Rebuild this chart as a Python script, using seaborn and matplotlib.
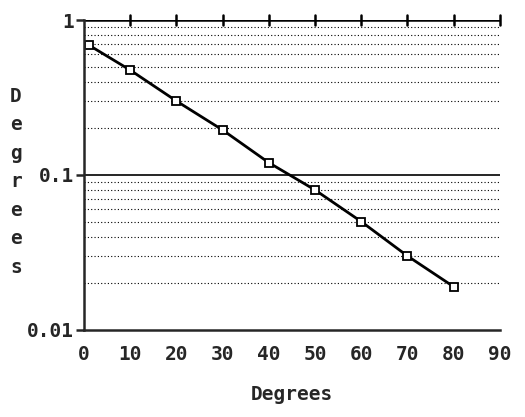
import matplotlib
matplotlib.use("Agg")
import matplotlib.pyplot as plt
import seaborn as sns
import numpy as np
import pandas as pd
from matplotlib.ticker import LogLocator, FixedLocator, NullFormatter

x_vals = [1, 10, 20, 30, 40, 50, 60, 70, 80]
y_vals = [0.69, 0.475, 0.30, 0.195, 0.12, 0.08, 0.05, 0.03, 0.019]
x_ticks = [0, 10, 20, 30, 40, 50, 60, 70, 80, 90]
y_ticks = [0.01, 0.1, 1]
y_tick_labels = ["0.01", "0.1", "1"]
axis_title = "Degrees"

sns.set_style("white")
plt.rcParams['font.family'] = ['DejaVu Sans Mono', 'DejaVu Sans']

df = pd.DataFrame({"x": x_vals, "y": y_vals})

fig = plt.figure(figsize=(5.25, 4.17), dpi=100)
ax = fig.add_axes([0.16, 0.209, 0.792, 0.743])

ax.set_yscale("log")
ax.set_xlim(0, 90)
ax.set_ylim(0.01, 1)

# dotted minor grid
ax.yaxis.set_minor_locator(LogLocator(base=10, subs=np.arange(2, 10)))
ax.yaxis.set_minor_formatter(NullFormatter())
ax.grid(which="minor", axis="y", color="black", linestyle=(0, (1, 2)), linewidth=0.8)
ax.axhline(0.1, color="black", linewidth=1.2)
ax.axhline(1, color="black", linewidth=1.8)

sns.lineplot(data=df, x="x", y="y", ax=ax, color="black", linewidth=2,
             marker="s", markersize=6, markerfacecolor="white",
             markeredgecolor="black", markeredgewidth=1.3, clip_on=False)

# top ticks crossing the top line
for xv in x_ticks[1:]:
    ax.plot([xv, xv], [0.93, 1.07], color="black", linewidth=1.8, clip_on=False)

fs = 14
ax.set_xticks(x_ticks)
ax.set_xticklabels([str(v) for v in x_ticks], fontsize=fs, fontweight="bold")
ax.yaxis.set_major_locator(FixedLocator(y_ticks))
ax.set_yticklabels(y_tick_labels, fontsize=fs, fontweight="bold")
ax.tick_params(axis="x", length=0, pad=11)
ax.tick_params(axis="y", which="major", direction="out", length=6, width=1.8, left=True, pad=1)
ax.tick_params(axis="y", which="minor", length=0)

for s in ["top", "right"]:
    ax.spines[s].set_visible(False)
ax.spines["left"].set_linewidth(1.8)
ax.spines["bottom"].set_linewidth(1.8)

ax.set_xlabel(axis_title, fontsize=fs, fontweight="bold", labelpad=15)
ax.set_ylabel("")
fig.text(0.03, 0.564, "\n".join(axis_title), fontsize=fs, fontweight="bold",
         ha="center", va="center", linespacing=1.63)

fig.savefig("out.png", dpi=100)
